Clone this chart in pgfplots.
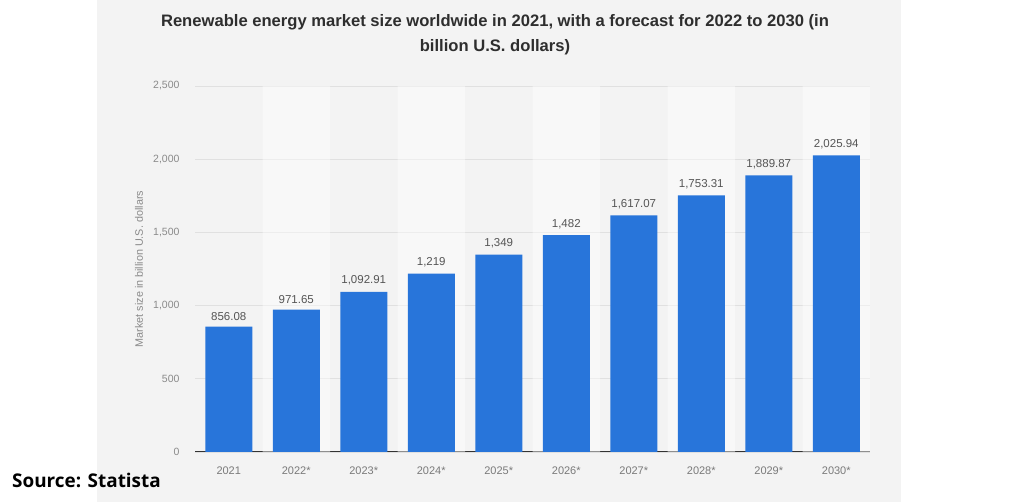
\documentclass[border=0pt]{standalone}
\usepackage{pgfplots}
\pgfplotsset{compat=1.18}
\usepackage{fontspec}
\setmainfont{Liberation Sans}
\newfontfamily\srcfont{Open Sans}
\definecolor{bg}{HTML}{F3F3F3}
\definecolor{barblue}{HTML}{2875DA}
\definecolor{ticklab}{HTML}{8A8A8A}
\definecolor{xlab}{HTML}{7A7A7A}
\definecolor{vallab}{HTML}{555555}
\definecolor{titlec}{HTML}{2E2E2E}
\definecolor{gridc}{HTML}{E0E0E0}
\begin{document}
\begin{tikzpicture}
\fill[white] (0pt,0pt) rectangle (1024pt,502pt);
\fill[bg] (97pt,0pt) rectangle (901pt,502pt);
\path[use as bounding box] (0pt,0pt) rectangle (1024pt,502pt);
\node[font=\bfseries\fontsize{16.6}{25}\selectfont, color=titlec, align=center, anchor=center] at (495pt,467pt) {Renewable energy market size worldwide in 2021, with a forecast for 2022 to 2030 (in\\billion U.S. dollars)};
\node[font=\srcfont\bfseries\fontsize{18.9}{20}\selectfont, anchor=base west, inner sep=0pt] at (12pt,14pt) {Source: Statista};
\begin{axis}[
  at={(195pt,50pt)}, anchor=south west,
  width=675pt, height=366pt, scale only axis,
  xmin=-0.5, xmax=9.5, ymin=0, ymax=2500,
  axis x line=bottom, axis y line=left,
  x axis line style={-, draw=black!80, line width=1pt},
  y axis line style={draw=none},
  major tick length=0pt,
  xtick={0,...,9},
  xticklabels={2021,2022*,2023*,2024*,2025*,2026*,2027*,2028*,2029*,2030*},
  ytick={0,500,1000,1500,2000,2500},
  ymajorgrids, grid style={draw=gridc, line width=0.8pt},
  /pgf/number format/assume math mode=true,
  /pgf/number format/1000 sep={,},
  xticklabel style={font=\fontsize{11}{12}\selectfont, color=xlab, yshift=-11pt},
  yticklabel style={font=\fontsize{10.5}{12}\selectfont, color=ticklab, xshift=-12pt},
  ylabel={Market size in billion U.S. dollars},
  every axis y label/.style={at={(axis description cs:-0.0830,0.5)}, rotate=90, anchor=center, font=\fontsize{10.8}{12}\selectfont, color=ticklab},
]
\addplot[ybar, bar width=67.5pt, bar shift=0pt, fill=white, fill opacity=0.45, draw=none] coordinates {(1,2500) (3,2500) (5,2500) (7,2500) (9,2500)};
\addplot[ybar, bar width=47pt, bar shift=0pt, fill=barblue, draw=none,
  nodes near coords, point meta=y,
  every node near coord/.style={font=\fontsize{11.5}{12}\selectfont, color=vallab, anchor=south, yshift=3pt,
    /pgf/number format/1000 sep={,}, /pgf/number format/assume math mode=true}]
  coordinates {(0,856.08) (1,971.65) (2,1092.91) (3,1219) (4,1349) (5,1482) (6,1617.07) (7,1753.31) (8,1889.87) (9,2025.94)};
\end{axis}
\end{tikzpicture}
\end{document}
